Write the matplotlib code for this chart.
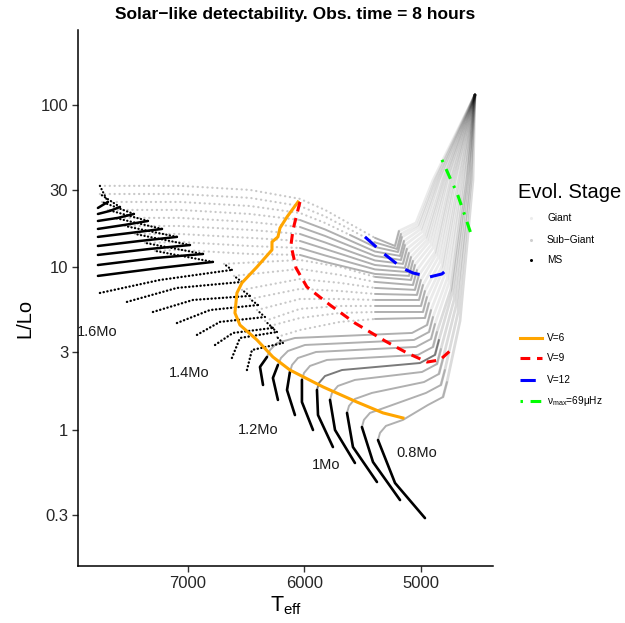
import matplotlib
matplotlib.use("Agg")
import matplotlib.pyplot as plt

plt.rcParams['font.family'] = ['Liberation Sans', 'DejaVu Sans']
plt.rcParams['mathtext.fontset'] = 'custom'
plt.rcParams['mathtext.rm'] = 'Liberation Sans'
plt.rcParams['mathtext.it'] = 'Liberation Sans:italic'

# ---------------- data ----------------
masses = [0.80, 0.85, 0.90, 0.95, 1.00, 1.05, 1.10, 1.15, 1.20, 1.25, 1.30, 1.35, 1.40,
          1.45, 1.50, 1.55, 1.60, 1.65, 1.70, 1.75, 1.80, 1.85, 1.90, 1.95, 2.00, 2.05]

# main sequence (Teff, log L)
ms_teff = [[4966, 5223, 5369], [5180, 5412, 5507], [5378, 5584, 5635], [5567, 5738, 5781],
           [5756, 5884, 5893], [5927, 6022, 6022], [6082, 6150, 6125], [6228, 6271, 6228],
           [6356, 6382, 6322], [6494, 6451, 6185], [6623, 6554, 6236], [6768, 6614, 6271],
           [6923, 6726, 6339], [7095, 6811, 6399], [7301, 6957, 6468], [7524, 7095, 6537],
           [7756, 7241, 6623], [7773, 7241, 6786], [7773, 7283, 6871], [7773, 7326, 6983],
           [7773, 7412, 7095], [7773, 7498, 7223], [7773, 7541, 7344], [7773, 7601, 7464],
           [7773, 7670, 7584], [7773, 7730, 7687]]
ms_logl = [[-0.542, -0.326, -0.062], [-0.431, -0.197, 0.018], [-0.32, -0.105, 0.105],
           [-0.203, 0.0, 0.185], [-0.105, 0.092, 0.246], [0.0, 0.172, 0.308],
           [0.092, 0.246, 0.357], [0.185, 0.32, 0.4], [0.277, 0.388, 0.449],
           [0.369, 0.492, 0.535], [0.443, 0.566, 0.603], [0.523, 0.597, 0.628],
           [0.585, 0.665, 0.695], [0.658, 0.738, 0.769], [0.726, 0.8, 0.825],
           [0.788, 0.874, 0.911], [0.843, 0.923, 0.985], [0.948, 0.997, 1.034],
           [1.015, 1.058, 1.083], [1.077, 1.114, 1.138], [1.132, 1.163, 1.188],
           [1.188, 1.212, 1.237], [1.237, 1.262, 1.286], [1.286, 1.305, 1.329],
           [1.329, 1.348, 1.372], [1.366, 1.385, 1.403]]

# end-of-main-sequence hook (Teff, log L)
hook_teff = [[], [], [], [], [], [], [], [], [],
             [6185, 6236], [6236, 6296], [6271, 6339], [6339, 6408], [6399, 6468],
             [6468, 6537], [6537, 6605], [6623, 6691], [6786, 7283], [6871, 7369],
             [6983, 7455], [7095, 7541], [7223, 7627], [7344, 7687], [7464, 7738],
             [7584, 7756], [7687, 7756]]
hook_logl = [[], [], [], [], [], [], [], [], [],
             [0.535, 0.572], [0.603, 0.64], [0.628, 0.671], [0.695, 0.738], [0.769, 0.806],
             [0.825, 0.862], [0.911, 0.948], [0.985, 1.022], [1.034, 1.102], [1.083, 1.151],
             [1.138, 1.206], [1.188, 1.255], [1.237, 1.305], [1.286, 1.354], [1.329, 1.403],
             [1.372, 1.452], [1.403, 1.502]]

# sub-giant branch (Teff, log L)
sg_teff = [[5369, 5352, 5301, 5155, 4940, 4811], [5507, 5490, 5438, 5292, 4957, 4829],
           [5635, 5618, 5567, 5421, 4974, 4846], [5781, 5764, 5713, 5567, 4991, 4863],
           [5893, 5876, 5824, 5678, 5009, 4880], [6022, 6004, 5953, 5807, 5026, 4897],
           [6125, 6107, 6056, 5901, 5043, 4914], [6228, 6202, 6142, 5996, 5060, 4931],
           [6322, 6296, 6236, 6082, 5077, 4948],
           [6236, 6039, 5695, 5395, 4966], [6296, 6039, 5695, 5395, 4983],
           [6339, 6039, 5695, 5395, 5000], [6408, 6039, 5695, 5395, 5017],
           [6468, 6039, 5695, 5395, 5035], [6537, 6039, 5695, 5395, 5052],
           [6605, 6039, 5695, 5395, 5069], [6691, 6039, 5695, 5395, 5086],
           [7283, 7069, 6468, 6039, 5824, 5610, 5395, 5103],
           [7369, 7069, 6468, 6039, 5824, 5610, 5395, 5120],
           [7455, 7069, 6468, 6039, 5824, 5610, 5395, 5138],
           [7541, 7069, 6468, 6039, 5824, 5610, 5395, 5155],
           [7627, 7069, 6468, 6039, 5824, 5610, 5395, 5172],
           [7687, 7069, 6468, 6039, 5824, 5610, 5395, 5180],
           [7738, 7069, 6468, 6039, 5824, 5610, 5395, 5198],
           [7756, 7069, 6468, 6039, 5824, 5610, 5395, 5206],
           [7756, 7069, 6468, 6039, 5824, 5610, 5395, 5223]]
sg_logl = [[-0.062, -0.018, 0.025, 0.062, 0.154, 0.203], [0.018, 0.062, 0.105, 0.142, 0.228, 0.277],
           [0.105, 0.148, 0.191, 0.228, 0.295, 0.345], [0.185, 0.228, 0.271, 0.308, 0.357, 0.406],
           [0.246, 0.289, 0.332, 0.369, 0.412, 0.462], [0.308, 0.351, 0.394, 0.431, 0.462, 0.511],
           [0.357, 0.4, 0.443, 0.48, 0.511, 0.56], [0.4, 0.443, 0.486, 0.523, 0.554, 0.603],
           [0.449, 0.492, 0.535, 0.566, 0.597, 0.646],
           [0.572, 0.615, 0.665, 0.683, 0.689], [0.64, 0.689, 0.72, 0.726, 0.726],
           [0.671, 0.745, 0.763, 0.763, 0.763], [0.738, 0.806, 0.806, 0.8, 0.8],
           [0.806, 0.868, 0.855, 0.837, 0.831], [0.862, 0.929, 0.905, 0.874, 0.862],
           [0.948, 0.991, 0.954, 0.911, 0.892], [1.022, 1.046, 1.003, 0.942, 0.923],
           [1.102, 1.108, 1.083, 1.077, 1.034, 0.997, 0.96, 0.948],
           [1.151, 1.157, 1.132, 1.12, 1.074, 1.031, 0.988, 0.972],
           [1.206, 1.206, 1.182, 1.163, 1.114, 1.065, 1.015, 0.997],
           [1.255, 1.255, 1.231, 1.206, 1.154, 1.098, 1.043, 1.022],
           [1.305, 1.305, 1.28, 1.249, 1.194, 1.132, 1.071, 1.046],
           [1.354, 1.354, 1.329, 1.292, 1.234, 1.166, 1.098, 1.071],
           [1.403, 1.403, 1.378, 1.335, 1.274, 1.2, 1.126, 1.095],
           [1.452, 1.452, 1.428, 1.378, 1.314, 1.234, 1.154, 1.114],
           [1.502, 1.502, 1.477, 1.422, 1.354, 1.268, 1.182, 1.132]]
# index on the sub-giant branch from where the track is drawn as a solid grey line
sg_solid_from = [0] * 9 + [3] * 8 + [3] * 6 + [5, 6, 6]
sg_grey = ['#b0b0b0'] * 4 + ['#7a7a7a'] + ['#b0b0b0'] * 21

# red giant branch (Teff, log L)
rgb_teff = [[4811, 4777, 4665, 4554, 4537], [4829, 4795, 4683, 4571, 4537],
            [4846, 4812, 4700, 4580, 4537], [4863, 4829, 4717, 4597, 4537],
            [4880, 4846, 4734, 4605, 4537], [4897, 4863, 4743, 4622, 4537],
            [4914, 4880, 4760, 4640, 4537], [4931, 4897, 4777, 4648, 4537],
            [4948, 4914, 4794, 4665, 4537], [4966, 4932, 4811, 4674, 4537],
            [4983, 4949, 4820, 4691, 4537], [5000, 4966, 4837, 4708, 4537],
            [5017, 4983, 4854, 4717, 4537], [5035, 5001, 4871, 4734, 4537],
            [5052, 5018, 4880, 4743, 4537], [5069, 5035, 4897, 4760, 4537],
            [5086, 5052, 4914, 4777, 4537], [5103, 5069, 4931, 4786, 4537],
            [5120, 5086, 4948, 4803, 4537], [5138, 5104, 4957, 4811, 4537],
            [5155, 5121, 4974, 4829, 4537], [5172, 5138, 4991, 4846, 4537],
            [5180, 5146, 5000, 4854, 4537], [5198, 5164, 5017, 4871, 4537],
            [5206, 5172, 5026, 4880, 4537], [5223, 5189, 5043, 4897, 4537]]
rgb_logl = [[0.203, 0.295, 0.671, 1.538, 2.062], [0.277, 0.369, 0.72, 1.538, 2.062],
            [0.345, 0.437, 0.763, 1.538, 2.062], [0.406, 0.498, 0.8, 1.538, 2.062],
            [0.462, 0.554, 0.837, 1.538, 2.062], [0.511, 0.603, 0.868, 1.538, 2.062],
            [0.56, 0.652, 0.905, 1.538, 2.062], [0.603, 0.695, 0.929, 1.538, 2.062],
            [0.646, 0.738, 0.96, 1.538, 2.062], [0.689, 0.781, 0.985, 1.538, 2.062],
            [0.726, 0.818, 1.009, 1.538, 2.062], [0.763, 0.855, 1.034, 1.538, 2.062],
            [0.8, 0.892, 1.058, 1.538, 2.062], [0.831, 0.923, 1.077, 1.538, 2.062],
            [0.862, 0.954, 1.095, 1.538, 2.062], [0.892, 0.984, 1.12, 1.538, 2.062],
            [0.923, 1.015, 1.138, 1.538, 2.062], [0.948, 1.04, 1.157, 1.538, 2.062],
            [0.972, 1.064, 1.169, 1.538, 2.062], [0.997, 1.089, 1.188, 1.538, 2.062],
            [1.022, 1.114, 1.2, 1.538, 2.062], [1.046, 1.138, 1.218, 1.538, 2.062],
            [1.071, 1.163, 1.237, 1.538, 2.062], [1.095, 1.187, 1.249, 1.538, 2.062],
            [1.114, 1.206, 1.262, 1.538, 2.062], [1.132, 1.224, 1.274, 1.538, 2.062]]
rgb_alpha = [0.14] * 6 + [0.08] * 20

# detectability limits
v6_teff = [6056, 6150, 6210, 6228, 6279, 6279, 6408, 6537, 6580, 6597, 6554, 6408, 6271,
           6125, 5841, 5550, 5326, 5155]
v6_logl = [1.403, 1.311, 1.243, 1.188, 1.157, 1.108, 1.003, 0.905, 0.843, 0.72, 0.646,
           0.554, 0.449, 0.369, 0.265, 0.172, 0.105, 0.074]
v9_teff = [6039, 6099, 6116, 6073, 5979, 5781, 5567, 5309, 5120, 4948, 4837, 4743]
v9_logl = [1.403, 1.231, 1.138, 0.997, 0.88, 0.769, 0.658, 0.548, 0.474, 0.418, 0.431, 0.492]
v12_teff = [5481, 5326, 5163, 5069, 4923, 4820, 4734]
v12_logl = [1.188, 1.089, 0.997, 0.966, 0.942, 0.96, 1.015]
numax_teff = [4820, 4751, 4691, 4640, 4562]
numax_logl = [1.662, 1.551, 1.458, 1.354, 1.188]

mass_labels = ['0.8Mo', '1Mo', '1.2Mo', '1.4Mo', '1.6Mo']
mass_label_teff = [5034, 5816, 6399, 6991, 7781]
mass_label_lum = [0.72, 0.61, 1.0, 2.24, 4.0]

x_ticks = [7000, 6000, 5000]
y_ticks = [0.3, 1, 3, 10, 30, 100]
y_tick_labels = ['0.3', '1', '3', '10', '30', '100']

# ---------------- figure ----------------
W, H = 625, 623
fig = plt.figure(figsize=(W / 100, H / 100), dpi=100)
ax = fig.add_axes([78 / W, 1 - 566 / H, (493 - 78) / W, (566 - 30) / H])

dots = (0, (0.1, 2.1))
bdots = (0, (0.1, 1.5))


def lum(v):
    return [10 ** x for x in v]


for i in range(len(masses)):
    # giants (faint, overlapping)
    ax.plot(rgb_teff[i], lum(rgb_logl[i]), color='k', alpha=rgb_alpha[i], lw=2.0,
            solid_capstyle='round', solid_joinstyle='round', zorder=1)
    # sub-giants
    k = sg_solid_from[i]
    if k > 0:
        ax.plot(sg_teff[i][:k + 1], lum(sg_logl[i][:k + 1]), color='#c8c8c8', lw=1.6,
                ls=dots, dash_capstyle='round', zorder=2)
    ax.plot(sg_teff[i][k:] + rgb_teff[i][1:2], lum(sg_logl[i][k:] + rgb_logl[i][1:2]),
            color=sg_grey[i], lw=1.4, solid_capstyle='round', solid_joinstyle='round', zorder=2)
    # main sequence
    if i < 9:
        ax.plot(ms_teff[i], lum(ms_logl[i]), color='k', lw=1.9, solid_capstyle='round',
                solid_joinstyle='round', zorder=3)
    elif i < 17:
        ax.plot(ms_teff[i], lum(ms_logl[i]), color='k', lw=1.7, ls=bdots,
                dash_capstyle='round', zorder=3)
    else:
        ax.plot(ms_teff[i], lum(ms_logl[i]), color='k', lw=1.8, solid_capstyle='round', zorder=3)
    if hook_teff[i]:
        ax.plot(hook_teff[i], lum(hook_logl[i]), color='k', lw=1.6, ls=bdots,
                dash_capstyle='round', zorder=3)

ax.plot(v6_teff, lum(v6_logl), color='#FFA500', lw=2.2, zorder=5)
ax.plot(v9_teff, lum(v9_logl), color='#FF0000', lw=2.2, ls=(0, (3.2, 2.2)), zorder=5)
ax.plot(v12_teff, lum(v12_logl), color='#0000FF', lw=2.2, ls=(0, (5, 3.5)), zorder=5)
ax.plot(numax_teff, lum(numax_logl), color='#00FF00', lw=2.2, ls=(0, (0.8, 2.5, 3.5, 2.5)),
        zorder=5)

for lab, t, l in zip(mass_labels, mass_label_teff, mass_label_lum):
    ax.text(t, l, lab, ha='center', va='center', fontsize=10.5, color='#1a1a1a', zorder=6)

ax.set_yscale('log')
ax.set_xlim(7944, 4382)
ax.set_ylim(0.1456, 289)
ax.set_xticks(x_ticks)
ax.set_xticklabels([str(t) for t in x_ticks])
ax.set_yticks(y_ticks)
ax.set_yticklabels(y_tick_labels)
ax.minorticks_off()
for s in ['top', 'right']:
    ax.spines[s].set_visible(False)
for s in ['left', 'bottom']:
    ax.spines[s].set_linewidth(1.1)
    ax.spines[s].set_color('black')
ax.tick_params(axis='both', direction='out', length=4, width=1.0, color='#333333',
               labelsize=12, labelcolor='#262626', pad=3)

fig.text(295 / W, 1 - 14 / H, 'Solar\u2212like detectability. Obs. time = 8 hours',
         ha='center', va='center', fontsize=12.5, fontweight='bold')
fig.text(25 / W, 1 - 318 / H, 'L/Lo', rotation=90, ha='center', va='center', fontsize=14.5)
fig.text(286 / W, 1 - 611 / H, r'T$_{\mathregular{eff}}$', ha='center', va='baseline',
         fontsize=15.5)

# ---------------- legends ----------------
lax = fig.add_axes([0, 0, 1, 1])
lax.set_xlim(0, W)
lax.set_ylim(H, 0)
lax.axis('off')
lax.text(518, 193, 'Evol. Stage', ha='left', va='center', fontsize=14.5)
stage_names = ['Giant', 'Sub\u2212Giant', 'MS']
stage_colors = ['#ececec', '#cfcfcf', 'black']
for name, c, yy in zip(stage_names, stage_colors, [218, 240, 260]):
    lax.plot([531], [yy], marker='o', ms=2.2, color=c, mec='none')
    lax.text(547, yy, name, ha='left', va='center', fontsize=7.3)

line_names = ['V=6', 'V=9', 'V=12', r'$\mathregular{ν_{max}}$=69μHz']
line_colors = ['#FFA500', '#FF0000', '#0000FF', '#00FF00']
line_styles = ['-', (0, (3.2, 2.2)), (0, (5, 3.5)), (0, (0.8, 2.5, 3.5, 2.5))]
for name, c, st, yy in zip(line_names, line_colors, line_styles, [338, 358, 380, 401]):
    lax.plot([520, 542], [yy, yy], color=c, ls=st, lw=2.2)
    lax.text(547, yy, name, ha='left', va='center', fontsize=7.3)

fig.savefig('out.png', dpi=100)
